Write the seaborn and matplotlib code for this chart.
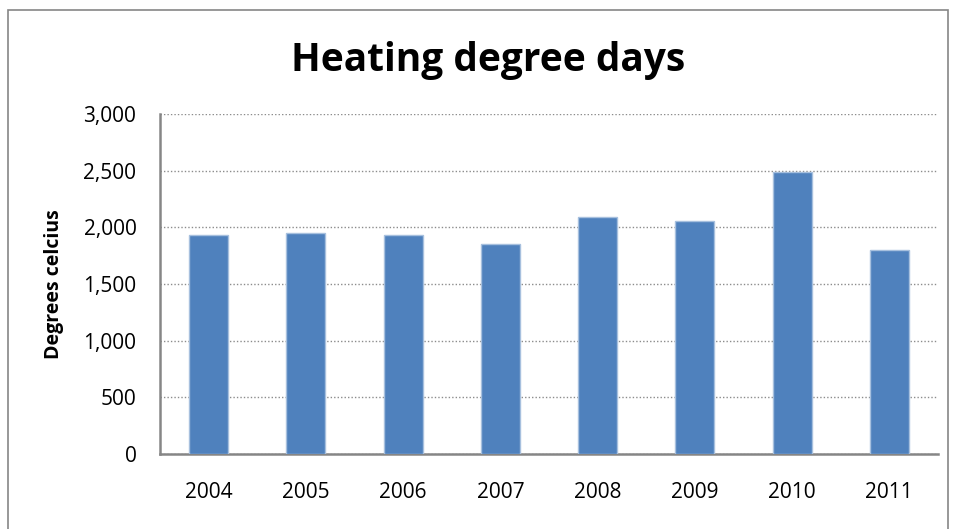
import matplotlib.pyplot as plt
import seaborn as sns
import pandas as pd
from matplotlib.patches import Rectangle
from matplotlib.ticker import FuncFormatter, FixedLocator

# Data
years = ['2004', '2005', '2006', '2007', '2008', '2009', '2010', '2011']
degree_days = [1930, 1950, 1936, 1853, 2092, 2059, 2491, 1803]

df = pd.DataFrame({'Year': years, 'Degrees': degree_days})

sns.set_style('white')
plt.rcParams['font.family'] = ['Open Sans', 'DejaVu Sans']
plt.rcParams['text.color'] = 'black'
plt.rcParams['xtick.labelcolor'] = 'black'
plt.rcParams['ytick.labelcolor'] = 'black'
plt.rcParams['axes.labelcolor'] = 'black'

fig = plt.figure(figsize=(9.56, 5.29), dpi=100)
ax = fig.add_axes([160 / 956, 1 - 454 / 529, (938 - 160) / 956, (454 - 114) / 529])

sns.barplot(data=df, x='Year', y='Degrees', color='#4F81BD', width=0.4,
            edgecolor='#A7C0DE', linewidth=1.0, saturation=1, ax=ax, zorder=3)

ax.set_ylim(0, 3000)
ax.set_xlim(-0.5, len(years) - 0.5)
ax.set_yticks(range(0, 3001, 500))
ax.yaxis.set_major_formatter(FuncFormatter(lambda v, p: f'{int(v):,}'))
ax.yaxis.grid(True, linestyle=(0, (1, 1.5)), color='#8C8C8C', linewidth=1.0, zorder=0)
ax.xaxis.grid(False)

# x ticks between categories
ax.xaxis.set_minor_locator(FixedLocator([i - 0.5 for i in range(len(years) + 1)]))
ax.tick_params(axis='x', which='major', length=0, pad=20, labelsize=15)
ax.tick_params(axis='x', which='minor', length=7, width=1.2, color='#868686', direction='out')
ax.tick_params(axis='y', which='major', length=7, width=1.2, color='#868686', direction='out',
               labelsize=15, pad=10)

for side in ['top', 'right']:
    ax.spines[side].set_visible(False)
for side in ['left', 'bottom']:
    ax.spines[side].set_color('#868686')
    ax.spines[side].set_linewidth(1.8)

ax.set_xlabel('')
ax.set_ylabel('Degrees celcius', fontsize=14, fontweight='bold', labelpad=14)

fig.text(488 / 956, 1 - 60 / 529, 'Heating degree days', ha='center', va='center',
         fontsize=28, fontweight='bold')

# chart border
fig.patches.append(Rectangle((8 / 956, -0.05), (948 - 8) / 956, 1 - 10 / 529 + 0.05,
                             transform=fig.transFigure, fill=False,
                             edgecolor='#868686', linewidth=1.2))

fig.savefig('out.png', dpi=100)
